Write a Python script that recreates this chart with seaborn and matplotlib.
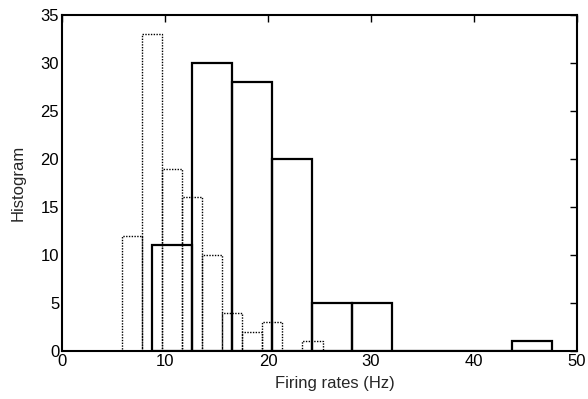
import numpy as np
import pandas as pd
import matplotlib
matplotlib.use("Agg")
import matplotlib.pyplot as plt
import seaborn as sns

# Solid histogram (10 bins)
solid_start = 8.7
solid_width = 3.89
solid_counts = [11, 30, 28, 20, 5, 5, 0, 0, 0, 1]

# Dotted histogram (10 bins)
dotted_start = 5.8
dotted_width = 1.95
dotted_counts = [12, 33, 19, 16, 10, 4, 2, 3, 0, 1]

x_ticks = [0, 10, 20, 30, 40, 50]
y_ticks = [0, 5, 10, 15, 20, 25, 30, 35]

sns.set_theme(style="white")
plt.rcParams['font.family'] = ['Liberation Sans', 'DejaVu Sans']

fig = plt.figure(figsize=(5.88, 3.99), dpi=100)
ax = fig.add_axes([0.1054, 0.1203, 0.8759, 0.8421])

def hist(start, width, counts, ls, lw):
    n = len(counts)
    centers = start + width * (np.arange(n) + 0.5)
    df = pd.DataFrame({"rate": centers, "count": np.asarray(counts, float)})
    sns.histplot(data=df, x="rate", weights="count", bins=n,
                 binrange=(start, start + n * width), fill=False,
                 element="bars", color="black", linestyle=ls,
                 linewidth=lw, ax=ax)

hist(dotted_start, dotted_width, dotted_counts, (0, (1, 1)), 1.0)
hist(solid_start, solid_width, solid_counts, "-", 1.6)

ax.set_xlim(0, 50)
ax.set_ylim(0, 35)
ax.set_xticks(x_ticks)
ax.set_yticks(y_ticks)
ax.set_xlabel("Firing rates (Hz)", fontsize=12)
ax.set_ylabel("Histogram", fontsize=12)
ax.xaxis.set_label_coords(0.53, -0.075)
ax.yaxis.set_label_coords(-0.07, 0.5)
ax.tick_params(direction="in", length=5, width=1, top=True, right=True,
               labelsize=12, colors="black", pad=2)
for s in ax.spines.values():
    s.set_visible(True)
    s.set_color("black")
    s.set_linewidth(1.5)

fig.savefig("out.png", dpi=100, facecolor="white")
